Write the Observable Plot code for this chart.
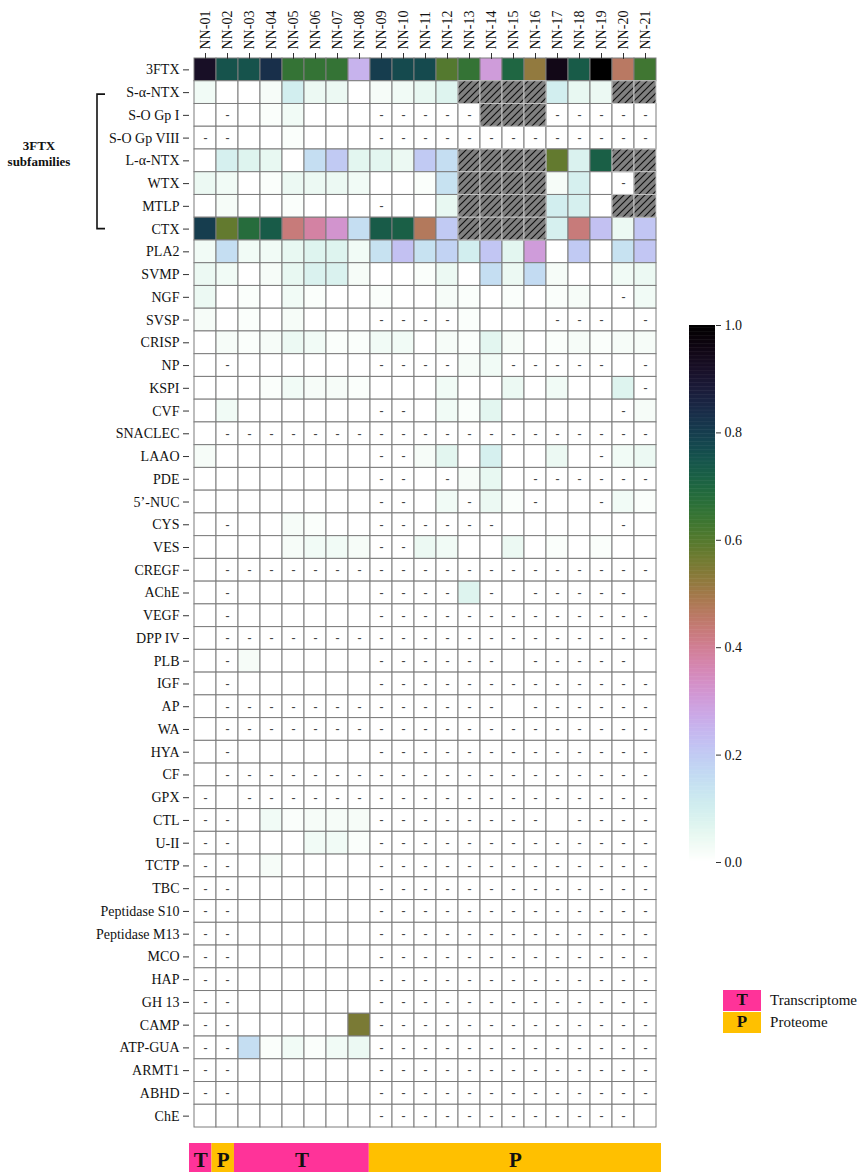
<!DOCTYPE html>
<html><head><meta charset="utf-8">
<script src="https://cdn.jsdelivr.net/npm/d3@7"></script>
<script src="https://cdn.jsdelivr.net/npm/@observablehq/plot@0.6"></script>
<style>
body{margin:0;background:#fff;}
#page{position:relative;width:861px;height:1172px;overflow:hidden;font-family:"Liberation Serif",serif;background:#fff;}
#legend{position:absolute;right:4px;top:989px;}
.lg{display:flex;align-items:center;font-size:15px;color:#111;height:22px;}
.lg .box{width:38px;height:21px;display:flex;align-items:center;justify-content:center;font-weight:bold;font-size:17px;margin-right:9px;}
.brk{position:absolute;font-weight:bold;font-size:13px;text-align:center;line-height:16px;color:#111;}
</style></head><body><div id="page"></div>
<script>
// ---- data ----
const samples = ["NN-01","NN-02","NN-03","NN-04","NN-05","NN-06","NN-07","NN-08","NN-09","NN-10","NN-11","NN-12","NN-13","NN-14","NN-15","NN-16","NN-17","NN-18","NN-19","NN-20","NN-21"];
const sampleType = ["T","P","T","T","T","T","T","T","P","P","P","P","P","P","P","P","P","P","P","P","P"];
const toxins = ["3FTX","S-α-NTX","S-O Gp I","S-O Gp VIII","L-α-NTX","WTX","MTLP","CTX","PLA2","SVMP","NGF","SVSP","CRISP","NP","KSPI","CVF","SNACLEC","LAAO","PDE","5’-NUC","CYS","VES","CREGF","AChE","VEGF","DPP IV","PLB","IGF","AP","WA","HYA","CF","GPX","CTL","U-II","TCTP","TBC","Peptidase S10","Peptidase M13","MCO","HAP","GH 13","CAMP","ATP-GUA","ARMT1","ABHD","ChE"];
// one string per toxin row, 21 entries: number = relative abundance, "-" = not detected, "/" = not resolved (hatched)
const rowValues = [
"0.92 0.75 0.75 0.83 0.65 0.65 0.65 0.25 0.80 0.77 0.77 0.60 0.65 0.30 0.70 0.52 0.95 0.73 1.00 0.46 0.63",
"0.03 0 0 0.02 0.10 0.04 0.04 0 0.02 0.03 0.05 0.07 / / / / 0.10 0.05 0.04 / /",
"0 - 0 0.01 0.03 0 0 0 - - - - - / / / - - - - -",
"- - 0 0 0.01 0 0 0 - - - - - - - - - - - - -",
"0 0.09 0.07 0.05 0 0.15 0.20 0.06 0.06 0.04 0.20 0.15 / / / / 0.58 0.08 0.72 / /",
"0.04 0.03 0 0.01 0.04 0.04 0.04 0.03 0 0 0.01 0.14 / / / / 0.02 0.09 0 - /",
"0 0.02 0 0 0.01 0 0 0 - 0 0 0.05 / / / / 0.10 0.09 0 / /",
"0.80 0.58 0.68 0.73 0.43 0.38 0.32 0.15 0.73 0.72 0.47 0.20 / / / / 0.09 0.43 0.22 0.04 0.21",
"0.03 0.15 0.03 0.03 0.05 0.07 0.07 0.03 0.14 0.22 0.14 0.18 0.10 0.21 0.06 0.30 0 0.20 0 0.14 0.21",
"0.04 0.03 0 0.02 0.05 0.08 0.08 0.02 0 0 0.01 0.04 0 0.15 0.04 0.16 0.02 0 0 0.03 0.04",
"0.04 0 0.01 0 0.03 0.01 0 0 0.01 0 0 0.02 0.01 0 0.01 0 0.01 0.02 0 - 0.03",
"0.02 0 0.01 0 0.02 0 0 0 - - - - 0.01 0 0 0 - - - 0 -",
"0 0.02 0.01 0.02 0.04 0.03 0.01 0.01 0.03 0.03 0 0.02 0.01 0.06 0.02 0 0.01 0.02 0.01 0.02 0.02",
"0 - 0 0 0 0 0 0 - - - - 0.02 0.03 - - - - - 0 -",
"0 0 0 0.01 0.03 0.02 0.02 0.01 0 0 0 0.03 0 0 0.04 0 0.03 0 0 0.07 -",
"0 0.03 0 0 0 0 0 0 - - 0 0.03 0.01 0.06 0 0 0 0 0 - 0.02",
"0 - - - - - - - - - - - - - - - - - - - -",
"0.02 0 0 0 0 0 0 0 - - 0.02 0.06 0 0.09 0 0 0.04 0 - 0.03 0.04",
"0 0 0 0 0 0 0 0 - - 0 - 0.02 0.05 0 - - - - - -",
"0 0 0 0 0 0 0 0 - - 0 0.03 - 0.04 0.01 - 0 0 - 0.03 0.01",
"0 - 0 0 0.02 0.01 0 0 - - - - - - 0 0 0 0 0 - 0",
"0 0 0 0 0.02 0.03 0.03 0.02 - - 0.04 0.03 0 0 0.04 0 0.01 0 0.01 0 0",
"0 - - - - - - - - - - - - - - - - - - - -",
"0 - 0 0 0 0 0 0 - - - - 0.07 - 0 - - - - - 0",
"0 - 0 0 0 0 0 0 - - - - - - - - - - - - -",
"0 - - - - - - - - - - - - - - - - - - - -",
"0 - 0.02 0 0 0 0 0 - - - - - - 0 - - - - - 0",
"0 - 0 0 0 0 0 0 - - - - - - - - - - - - -",
"0 - - - - - - - - - - - - - 0 - - - - - -",
"0 - - - - - - - - - - - - - - - - - - - -",
"0 - 0 0 0 0 0 0 - - - - - - - - - - - - -",
"0 - - - - - - - - - - - - - - - - - - - -",
"- 0 - - - - - - - - - - - - - - - - - - -",
"- - 0 0.03 0.01 0.02 0.02 0.02 - - - - - - - - 0 - - - -",
"- - 0 0 0 0.03 0.03 0.01 - - - - - - - - - - - - -",
"- - 0 0.02 0 0 0 0 - - - - - - - - - - - - -",
"- - 0 0 0 0 0 0 - - - - - - - - - - - - -",
"- - 0 0 0 0 0 0 - - - - - - - - - - - - -",
"- - 0 0 0 0 0 0 - - - - - - - - - - - - -",
"- - 0 0 0 0 0 0 - - - - - - - - - - - - -",
"- - 0 0 0 0 0 0 - - - - - - - - - - - - -",
"- - 0 0 0 0 0 0 - - - - - - - - - - - - -",
"- - 0 0 0 0 0 0.55 - - - - - - - - - - - - -",
"- - 0.15 0.01 0.03 0.01 0.03 0.04 - - - - - - - - - - - - -",
"- - 0 0 0 0 0 0 - - - - - - - - - - - - -",
"- - 0 0 0 0 0 0 - - - - - - - - - - - - -",
"0 0 0 0 0 0 0 0 - - - - - - - - - - - - 0"
];
const colorTicks = [0, 0.2, 0.4, 0.6, 0.8, 1.0];
const typeNames = ["T", "P"];
const typeLabels = ["Transcriptome", "Proteome"];
const typeColors = ["#ff3399", "#ffc000"];
const bracketFirst = "S-α-NTX", bracketLast = "CTX";
const bracketText = ["3FTX", "subfamilies"];

// ---- build table ----
const cells = [];
toxins.forEach((t, i) => {
  rowValues[i].trim().split(/\s+/).forEach((tok, j) => {
    const kind = tok === "-" ? "dash" : tok === "/" ? "hatch" : "value";
    cells.push({toxin: t, sample: samples[j], kind, value: kind === "value" ? +tok : 0});
  });
});

const interp = t => d3.interpolateCubehelixDefault(1 - t);
const font = '"Liberation Serif", "Times New Roman", serif';
const page = document.getElementById("page");

// ---- main heatmap ----
const main = Plot.plot({
  width: 680, height: 1128,
  marginLeft: 189, marginRight: 19, marginTop: 58, marginBottom: 1,
  style: {fontFamily: font, fontSize: "14px", background: "transparent", color: "#111"},
  x: {domain: samples, padding: 0},
  y: {domain: toxins, padding: 0},
  color: {type: "linear", domain: [0, 1], interpolate: interp},
  marks: [
    Plot.cell(cells.filter(d => d.kind !== "hatch"), {x: "sample", y: "toxin", fill: "value", stroke: "#7c7c7c", strokeWidth: 1}),
    Plot.cell(cells.filter(d => d.kind === "hatch"), {x: "sample", y: "toxin", fill: "url(#hatch)", stroke: "#c4c4c4", strokeWidth: 1}),
    Plot.text(cells.filter(d => d.kind === "dash"), {x: "sample", y: "toxin", text: () => "-", fontSize: 12, fontWeight: "bold", fill: "#444"}),
    Plot.axisX({anchor: "top", tickRotate: -90, tickSize: 6, tickPadding: 3, fontSize: 14, label: null, stroke: "#333"}),
    Plot.axisY({anchor: "left", tickSize: 6, tickPadding: 4, fontSize: 14, label: null, stroke: "#333"})
  ]
});
main.insertAdjacentHTML("afterbegin",
  `<defs><pattern id="hatch" patternUnits="userSpaceOnUse" width="7" height="7">
     <rect width="7" height="7" fill="#808080"/>
     <path d="M-1,1 l2,-2 M0,7 l7,-7 M6,8 l2,-2" stroke="#111" stroke-width="1.2"/>
   </pattern></defs>`);
main.style.position = "absolute"; main.style.left = "0px"; main.style.top = "0px";
page.appendChild(main);

// bracket for 3FTX subfamilies, placed with the y scale
const ys = main.scale("y");
const yTop = ys.apply(bracketFirst) + ys.bandwidth / 2 + 2;
const yBot = ys.apply(bracketLast) + ys.bandwidth / 2;
d3.select(main).append("path")
  .attr("d", `M105,${yTop}H97V${yBot}H105`)
  .attr("fill", "none").attr("stroke", "#111").attr("stroke-width", 1.6);
const brk = document.createElement("div");
brk.className = "brk";
brk.style.left = "0px"; brk.style.width = "78px";
brk.style.top = ((yTop + yBot) / 2 - 23) + "px";
brk.innerHTML = bracketText.join("<br>");
page.appendChild(brk);

// ---- colour bar ----
const ramp = d3.range(0, 1, 0.0025);
const cbar = Plot.plot({
  width: 80, height: 557, marginLeft: 0, marginRight: 54, marginTop: 10, marginBottom: 10,
  style: {fontFamily: font, fontSize: "14px", background: "transparent", color: "#111"},
  x: {domain: [0, 1], axis: null},
  y: {domain: [0, 1]},
  color: {type: "linear", domain: [0, 1], interpolate: interp},
  marks: [
    Plot.rect(ramp, {x1: 0, x2: 1, y1: d => d, y2: d => Math.min(1, d + 0.0035), fill: d => d}),
    Plot.axisY({anchor: "right", ticks: colorTicks, tickFormat: d3.format(".1f"), tickSize: 5, tickPadding: 4, fontSize: 14, label: null, stroke: "#333"})
  ]
});
cbar.style.position = "absolute"; cbar.style.left = "689px"; cbar.style.top = "315px";
page.appendChild(cbar);

// ---- sample type strip ----
const groups = [];
sampleType.forEach((t, j) => {
  const g = groups[groups.length - 1];
  if (g && g.type === t) g.end = j + 1; else groups.push({type: t, start: j, end: j + 1});
});
const strip = Plot.plot({
  width: 680, height: 34, marginLeft: 189, marginRight: 19, marginTop: 0, marginBottom: 0,
  style: {fontFamily: font, background: "transparent"},
  x: {domain: [0, samples.length], axis: null},
  y: {domain: [0, 1], axis: null},
  color: {domain: typeNames, range: typeColors},
  marks: [
    Plot.rect(groups, {x1: "start", x2: "end", y1: 0, y2: 1, fill: "type"}),
    Plot.text(groups, {x: d => (d.start + d.end) / 2, y: 0.5, text: "type", fontSize: 21, fontWeight: "bold", fill: "#111"})
  ]
});
strip.style.position = "absolute"; strip.style.left = "0px"; strip.style.top = "1143px";
page.appendChild(strip);

// ---- legend ----
const legend = document.createElement("div");
legend.id = "legend";
typeNames.forEach((t, i) => {
  const row = document.createElement("div");
  row.className = "lg";
  row.innerHTML = `<div class="box" style="background:${typeColors[i]}">${t}</div><span>${typeLabels[i]}</span>`;
  legend.appendChild(row);
});
page.appendChild(legend);
</script></body></html>
